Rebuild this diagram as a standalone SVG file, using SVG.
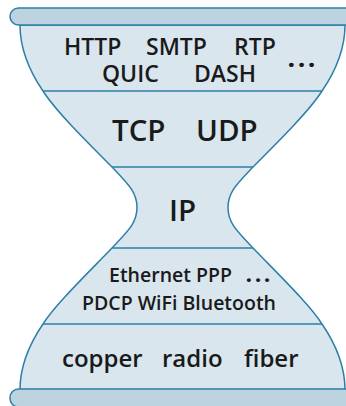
<svg xmlns="http://www.w3.org/2000/svg" width="346" height="406" viewBox="0 0 346 406">
  <style>
    .body { fill: #d9e6ee; stroke: #2d7fa7; stroke-width: 1.5; }
    .bar { fill: #bdd3df; stroke: #2d7fa7; stroke-width: 1.5; }
    .div { stroke: #2d7fa7; stroke-width: 1.5; fill: none; }
    text { font-family: "Open Sans", "Noto Sans", "DejaVu Sans", sans-serif; font-weight: 600; fill: #1a1a1a; }
    .app { font-size: 23px; }
    .tr { font-size: 29.5px; }
    .link { font-size: 19.5px; }
    .phy { font-size: 24px; }
    .dots { font-weight: 800; letter-spacing: 3.5px; }
  </style>

  <!-- hourglass outline of the protocol stack -->
  <g id="hourglass">
    <path class="body" d="M 20,25
      C 20,50 30,72 43,91
      C 55,110 85,140 112,167
      C 128,184 137,192 137,207.5
      C 137,223 128,231 112,248
      C 85,276 55,305 43,324
      C 30,343 20,365 20,390
      L 345,390
      C 345,365 335,343 322,324
      C 310,305 280,276 253,248
      C 237,231 228,223 228,207.5
      C 228,192 237,184 253,167
      C 280,140 310,110 322,91
      C 335,72 345,50 345,25 Z"/>
    <line class="div" x1="43" y1="91" x2="322" y2="91"/>
    <line class="div" x1="112" y1="167" x2="253" y2="167"/>
    <line class="div" x1="112" y1="248" x2="253" y2="248"/>
    <line class="div" x1="43" y1="324" x2="322" y2="324"/>
  </g>

  <g id="top-bar">
    <rect class="bar" x="10" y="8" width="350" height="17" rx="8.5"/>
  </g>
  <g id="bottom-bar">
    <rect class="bar" x="10" y="389" width="350" height="18" rx="8.5"/>
  </g>

  <g id="application">
    <text class="app" y="55"><tspan x="64">HTTP</tspan><tspan x="146">SMTP</tspan><tspan x="234">RTP</tspan></text>
    <text class="app dots" x="288" y="67">...</text>
    <text class="app" y="82"><tspan x="102">QUIC</tspan><tspan x="194">DASH</tspan></text>
  </g>

  <g id="transport">
    <text class="tr" y="141"><tspan x="112">TCP</tspan><tspan x="196">UDP</tspan></text>
  </g>

  <g id="network">
    <text class="tr" x="169" y="221">IP</text>
  </g>

  <g id="link">
    <text class="link" x="109" y="282">Ethernet PPP</text>
    <text class="link dots" x="246" y="282">...</text>
    <text class="link" x="82" y="310">PDCP WiFi Bluetooth</text>
  </g>

  <g id="physical">
    <text class="phy" y="367"><tspan x="62">copper</tspan><tspan x="162">radio</tspan><tspan x="244">fiber</tspan></text>
  </g>
</svg>
